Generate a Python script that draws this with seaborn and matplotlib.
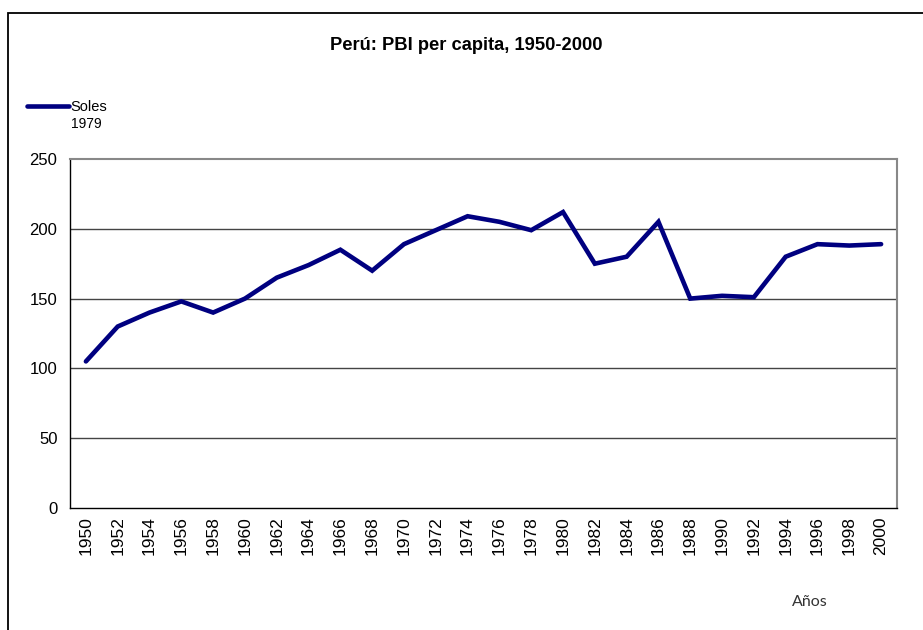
import matplotlib
matplotlib.use("Agg")
import matplotlib.pyplot as plt
import seaborn as sns
import pandas as pd
import numpy as np
from matplotlib.patches import Rectangle
from matplotlib.lines import Line2D

sns.set_style("white")
plt.rcParams["font.family"] = ["Liberation Sans", "DejaVu Sans"]
plt.rcParams["text.color"] = "black"
plt.rcParams["xtick.color"] = "black"
plt.rcParams["ytick.color"] = "black"

# data
years = list(range(1950, 2001, 2))
pbi = [105, 130, 140, 148, 140, 150, 165, 174, 185, 170, 189, 199, 209,
       205, 199, 212, 175, 180, 205, 150, 152, 151, 180, 189, 188, 189]
y_ticks = [0, 50, 100, 150, 200, 250]

df = pd.DataFrame({"anio": years, "pbi": pbi})
navy = "#000080"

fig = plt.figure(figsize=(9.23, 6.3), dpi=100)
ax = fig.add_axes([70/923, 1 - 508/630, 827/923, 349/630])

sns.lineplot(data=df, x="anio", y="pbi", ax=ax, color=navy, linewidth=3.3,
             solid_capstyle="round", solid_joinstyle="miter", legend=False)

ax.set_xlim(years[0] - 1, years[-1] + 1)
ax.set_ylim(y_ticks[0], y_ticks[-1])
ax.set_yticks(y_ticks)
ax.set_yticklabels([str(v) for v in y_ticks], fontsize=12)

# category boundaries as major ticks, labels on minor ticks
ax.set_xticks([y - 1 for y in years] + [years[-1] + 1])
ax.set_xticklabels([])
ax.set_xticks(years, minor=True)
ax.set_xticklabels([str(y) for y in years], minor=True, rotation=90, fontsize=12.5)
ax.tick_params(axis="x", which="major", direction="out", length=6, width=1, color="black")
ax.tick_params(axis="x", which="minor", length=0, pad=6)
ax.tick_params(axis="y", direction="out", length=5, width=1, color="black", pad=4)

ax.grid(False)
for v in y_ticks[1:-1]:
    ax.axhline(v, color="#444444", linewidth=1, zorder=0)

ax.spines["left"].set_color("black")
ax.spines["bottom"].set_color("black")
ax.spines["left"].set_linewidth(1)
ax.spines["bottom"].set_linewidth(1)
ax.spines["top"].set_color("#888888")
ax.spines["right"].set_color("#888888")
ax.spines["top"].set_linewidth(1.5)
ax.spines["right"].set_linewidth(1.5)

ax.set_xlabel("")
ax.set_ylabel("")

fig.text(466/923, 1 - 45/630, "Perú: PBI per capita, 1950-2000", ha="center", va="center",
         fontsize=13.2, fontweight="bold")

# legend, drawn in figure coordinates like the Excel one
fig.add_artist(Line2D([27/923, 69/923], [1 - 106/630, 1 - 106/630], color=navy,
                      linewidth=3.3, solid_capstyle="round"))
fig.text(70/923, 1 - 107/630, "Soles", ha="left", va="center", fontsize=10.5)
fig.text(71/923, 1 - 124/630, "1979", ha="left", va="center", fontsize=10)

fig.text(810/923, 1 - 602/630, "Años", ha="center", va="center", fontsize=11.5,
         family=["Lato", "DejaVu Sans"], color="#333333")

fig.add_artist(Rectangle((8/923, -0.05), 1.2, 1 - 13/630 + 0.05, transform=fig.transFigure,
                         fill=False, edgecolor="black", linewidth=1.3))

fig.savefig("out.png", dpi=100)
